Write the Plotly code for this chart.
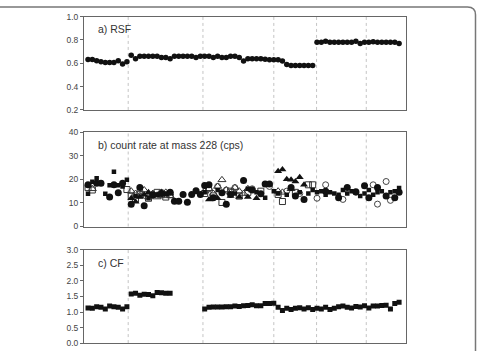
import plotly.graph_objects as go

# ---------------- data ----------------
idx = list(range(73))

rsf = [0.633, 0.633, 0.622, 0.614, 0.606, 0.606, 0.606, 0.622, 0.594, 0.614,
       0.67, 0.64, 0.66, 0.66, 0.66, 0.66, 0.66, 0.65, 0.65, 0.64, 0.66, 0.66, 0.66, 0.66, 0.66, 0.65, 0.66,
       0.66, 0.66, 0.65, 0.66, 0.65, 0.65, 0.66, 0.66, 0.65, 0.62, 0.64, 0.64, 0.64, 0.64, 0.635, 0.63, 0.63,
       0.63, 0.62, 0.59, 0.58, 0.58, 0.58, 0.58, 0.58, 0.58,
       0.78, 0.78, 0.79, 0.78, 0.78, 0.78, 0.78, 0.78, 0.78, 0.79, 0.77, 0.78, 0.78, 0.785, 0.78, 0.78, 0.78, 0.78, 0.78, 0.77]

cf_x = list(range(0, 20)) + list(range(27, 73))
cf = [1.13, 1.12, 1.17, 1.15, 1.10, 1.19, 1.17, 1.15, 1.10, 1.17,
      1.58, 1.60, 1.54, 1.57, 1.56, 1.52, 1.63, 1.62, 1.60, 1.60,
      1.10, 1.15, 1.16, 1.16, 1.16, 1.17, 1.17, 1.19, 1.18, 1.20, 1.21, 1.23, 1.20, 1.20, 1.27, 1.27, 1.28,
      1.15, 1.05, 1.12, 1.08, 1.12, 1.14, 1.10, 1.14, 1.08, 1.12, 1.10, 1.15, 1.08, 1.12, 1.17, 1.19,
      1.15, 1.13, 1.18, 1.16, 1.20, 1.13, 1.19, 1.19, 1.21, 1.22, 1.10, 1.27, 1.31]

# count rate series (cps)
circ_x = [0, 2, 3, 5, 6, 7, 8,
          10, 12, 13, 15, 17, 19, 20, 21, 22, 23, 24, 25, 26,
          27, 28, 29, 31, 32, 33, 36, 38, 40, 41, 42,
          47, 48, 50,
          55, 58, 60, 62, 64, 65, 67, 69, 71, 72]
circ_y = [17.7, 18.4, 18.4, 12.5, 17.7, 14.3, 18.4,
          9.5, 16.6, 8.8, 13.5, 14.0, 14.5, 10.7, 10.7, 13.6, 10.3, 13.6, 15.2, 13.6,
          17.4, 17.7, 12.2, 14.3, 9.5, 13.6, 19.5, 15.5, 13.9, 18.0, 18.0,
          16.6, 12.9, 11.5,
          15.0, 12.2, 16.6, 14.8, 17.3, 12.2, 16.6, 12.9, 12.2, 14.5]

sq_x = [0, 1, 2, 3, 4, 5, 6, 7, 8, 9,
        11, 14, 16, 18,
        27, 30, 34, 37, 39, 41, 43,
        44, 46, 49, 51, 52,
        53, 54, 55, 56, 57, 58, 59, 60, 61, 62, 63, 64, 65, 66, 67, 68, 69, 70, 71, 72]
sq_y = [13.9, 19.0, 20.5, 18.5, 13.9, 17.5, 23.2, 17.5, 17.0, 19.8,
        13.0, 12.0, 13.5, 14.0,
        14.5, 15.5, 14.0, 16.0, 14.5, 12.2, 15.0,
        14.0, 13.5, 14.5, 14.0, 15.5,
        14.5, 15.0, 13.5, 14.5, 14.0, 13.5, 15.5, 14.0, 15.0, 14.5, 13.0, 14.0, 15.5, 13.5, 14.5, 15.0, 13.0, 14.5, 15.0, 16.3]

tri_x = [10, 11, 12, 13, 14, 15, 16, 17, 18, 19,
         28, 30, 33, 35, 37, 39,
         44, 45, 46, 47, 48, 49, 50]
tri_y = [12.0, 10.5, 12.5, 13.5, 14.5, 13.0, 13.5, 14.5, 13.5, 14.0,
         11.5, 12.0, 13.0, 12.5, 12.5, 12.0,
         23.5, 24.2, 20.1, 19.8, 19.1, 20.9, 17.7]

otri_x = [1, 10, 11, 12, 13, 14, 15, 16, 17, 18, 19,
          27, 28, 29, 30, 31, 32, 33, 34, 35, 36, 37, 38,
          44, 45, 47]
otri_y = [16.0, 15.0, 14.0, 13.0, 15.5, 12.5, 14.0, 12.5, 13.0, 14.5, 13.0,
          15.0, 16.0, 14.0, 17.0, 19.8, 15.5, 14.5, 16.5, 15.0, 14.0, 16.0, 15.5,
          15.0, 14.5, 16.0]

osq_x = [0, 1, 9, 10, 11, 12, 14, 16, 18, 19,
         27, 29, 31, 33, 35, 37, 40,
         44, 45, 48, 51, 52]
osq_y = [16.5, 15.5, 15.7, 12.9, 11.5, 13.5, 12.0, 14.5, 12.5, 13.5,
         14.0, 13.0, 10.2, 15.0, 12.9, 14.5, 15.0,
         13.6, 10.6, 14.5, 17.7, 17.7]

ocirc_x = [12, 15, 17, 28, 30, 32, 34, 38, 42, 46, 49, 53, 55, 59, 62, 66, 67, 69, 70]
ocirc_y = [15.0, 13.5, 14.5, 16.0, 17.0, 15.5, 16.5, 16.0, 17.0, 15.0, 14.0,
           12.0, 17.7, 11.5, 14.5, 17.7, 9.5, 19.1, 11.1]

separators = [9.3, 26.6, 43.0, 52.9, 64.4]
panel_labels = ["a) RSF", "b) count rate at mass 228 (cps)", "c) CF"]

# ---------------- figure ----------------
W, H = 478, 351
def py(p):
    return 1 - p / H

dom_x = [84 / W, 406 / W]
doms_y = [[py(108), py(12)], [py(228), py(131)], [py(348), py(252)]]
xr = [-0.93, 73.6]

BLK = "#111111"
fig = go.Figure()

fig.add_trace(go.Scatter(x=idx, y=rsf, mode="markers", xaxis="x", yaxis="y",
                         marker=dict(symbol="circle", size=5.5, color=BLK), showlegend=False))

def add_b(x, y, sym, size, color, line_color, lw=0):
    fig.add_trace(go.Scatter(x=x, y=y, mode="markers", xaxis="x2", yaxis="y2",
                             marker=dict(symbol=sym, size=size, color=color,
                                         line=dict(color=line_color, width=lw)),
                             showlegend=False))

add_b(osq_x, osq_y, "square-open", 6, "#333333", "#333333", 1)
add_b(otri_x, otri_y, "triangle-up-open", 7, "#333333", "#333333", 1)
add_b(ocirc_x, ocirc_y, "circle-open", 6, "#444444", "#444444", 1)
add_b(tri_x, tri_y, "triangle-up", 7, BLK, BLK)
add_b(sq_x, sq_y, "square", 4.5, BLK, BLK)
add_b(circ_x, circ_y, "circle", 7, BLK, BLK)

fig.add_trace(go.Scatter(x=cf_x, y=cf, mode="markers", xaxis="x3", yaxis="y3",
                         marker=dict(symbol="square", size=5, color=BLK), showlegend=False))

axis_common = dict(showline=True, linecolor="#666666", linewidth=1, mirror=True,
                   showgrid=False, zeroline=False)
xa = dict(axis_common, domain=dom_x, range=xr, showticklabels=False, ticks="")
ya = dict(axis_common, ticks="outside", ticklen=3, tickcolor="#666666", tickwidth=1,
          tickfont=dict(family="Liberation Sans, Arial", size=8.5, color="#444444"))

fig.update_layout(
    width=W, height=H, margin=dict(l=0, r=0, t=0, b=0),
    paper_bgcolor="white", plot_bgcolor="white",
    xaxis=dict(xa, anchor="y"),
    xaxis2=dict(xa, anchor="y2"),
    xaxis3=dict(xa, anchor="y3"),
    yaxis=dict(ya, domain=doms_y[0], anchor="x", range=[0.2, 1.0], dtick=0.2, tickformat=".1f"),
    yaxis2=dict(ya, domain=doms_y[1], anchor="x2", range=[0, 40], dtick=10),
    yaxis3=dict(ya, domain=doms_y[2], anchor="x3", range=[0, 3.0], dtick=0.5, tickformat=".1f"),
)

shapes = []
for k, (xn, yn) in enumerate([("x", "y"), ("x2", "y2"), ("x3", "y3")]):
    for s in separators:
        shapes.append(dict(type="line", xref=xn, yref=yn + " domain", x0=s, x1=s, y0=0, y1=1,
                           line=dict(color="#c4c4c4", width=1, dash="dot"), layer="below"))

# outer rounded frame
rx, ry = 8 / W, 8 / H
x1, y1 = 475.5 / W, py(2)
shapes.append(dict(type="path", xref="paper", yref="paper",
                   path=f"M -0.05,{y1} L {x1 - rx},{y1} Q {x1},{y1} {x1},{y1 - ry} L {x1},-0.05",
                   line=dict(color="#777777", width=1.5)))
fig.update_layout(shapes=shapes)

label_y = [py(25), py(144.5), py(266)]
for t, yy in zip(panel_labels, label_y):
    fig.add_annotation(text=t, xref="paper", yref="paper", x=96 / W, y=yy,
                       xanchor="left", yanchor="middle", showarrow=False,
                       font=dict(family="Liberation Sans, Arial", size=10.5, color="#333333"))

fig.write_html("out.html")
